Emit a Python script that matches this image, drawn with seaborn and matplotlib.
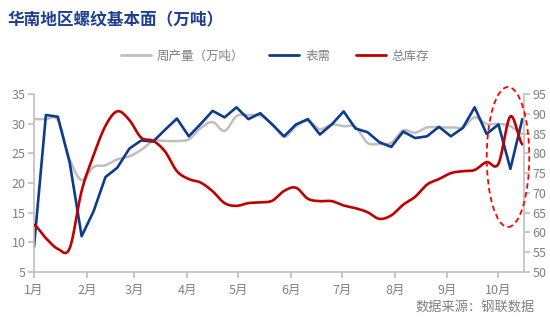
import numpy as np
import pandas as pd
import matplotlib
matplotlib.use('Agg')
import matplotlib.pyplot as plt
import matplotlib.dates as mdates
from matplotlib.patches import Ellipse
from matplotlib.lines import Line2D
import seaborn as sns

sns.set_theme(style='white')
plt.rcParams['font.family'] = ['Noto Sans CJK SC', 'DejaVu Sans']

title = '华南地区螺纹基本面（万吨）'
source = '数据来源：钢联数据'
series_names = ['周产量（万吨）', '表需', '总库存']
month_labels = ['1月', '2月', '3月', '4月', '5月', '6月', '7月', '8月', '9月', '10月']

production = [30.8, 30.8, 30.6, 24.0, 20.5, 22.7, 23.0, 24.0, 24.5, 25.6,
              27.1, 27.1, 27.1, 27.4, 29.3, 30.3, 28.8, 31.3, 31.5, 31.4,
              30.0, 27.8, 29.6, 30.5, 29.1, 29.9, 29.6, 29.5, 26.8, 26.6,
              26.8, 28.9, 28.5, 29.4, 29.4, 29.4, 29.4, 31.1, 30.0, 30.0,
              29.6, 28.3]
demand = [9.2, 31.5, 31.2, 23.4, 11.0, 15.2, 21.0, 22.6, 25.8, 27.2,
          27.0, 29.0, 30.9, 27.9, 30.0, 32.2, 31.1, 32.8, 30.8, 31.8,
          29.9, 27.9, 29.9, 30.8, 28.2, 29.9, 32.1, 29.2, 28.6, 26.9,
          26.1, 28.7, 27.6, 27.9, 29.5, 27.9, 29.3, 32.8, 28.3, 29.9,
          22.4, 30.8]
inventory = [61.9, 58.5, 55.8, 56.0, 70.5, 79.5, 87.0, 90.7, 88.5, 84.0,
             83.2, 80.5, 75.5, 73.5, 72.6, 70.4, 67.4, 66.7, 67.4, 67.6,
             68.0, 70.5, 71.3, 68.5, 67.9, 67.9, 66.8, 66.1, 65.1, 63.4,
             64.3, 67.0, 69.0, 72.1, 73.5, 75.0, 75.5, 75.8, 77.8, 77.4,
             89.4, 82.3]

dates = pd.date_range('2025-01-02', periods=len(demand), freq='7D')
month_ticks = pd.date_range('2025-01-01', periods=10, freq='MS') + pd.Timedelta(days=1)

xnum = mdates.date2num(dates)


def smooth(x, y, n=16):
    x = np.asarray(x, float)
    y = np.asarray(y, float)
    xs, ys = [], []
    m = len(y)
    for i in range(m - 1):
        p0 = y[i - 1] if i > 0 else y[i]
        p1 = y[i]
        p2 = y[i + 1]
        p3 = y[i + 2] if i + 2 < m else y[i + 1]
        t = np.linspace(0, 1, n, endpoint=False)
        yy = 0.5 * (2 * p1 + (-p0 + p2) * t + (2 * p0 - 5 * p1 + 4 * p2 - p3) * t ** 2
                    + (-p0 + 3 * p1 - 3 * p2 + p3) * t ** 3)
        xx = x[i] + (x[i + 1] - x[i]) * t
        xs.append(xx)
        ys.append(yy)
    xs.append([x[-1]])
    ys.append([y[-1]])
    return np.concatenate(xs), np.concatenate(ys)


c_gray = '#bfbfbf'
c_blue = '#0c3c8c'
c_red = '#c00000'
c_axis = '#bfbfbf'
c_text = '#808080'

fig = plt.figure(figsize=(5.5, 3.3), dpi=100)
ax = fig.add_axes([34 / 550, 1 - 271.7 / 330, (524 - 34) / 550, (271.7 - 94.3) / 330])
ax2 = ax.twinx()

px, py = smooth(xnum, production)
sns.lineplot(x=px, y=py, ax=ax, color=c_gray, lw=1.8, sort=False, estimator=None)
sns.lineplot(x=xnum, y=demand, ax=ax, color=c_blue, lw=1.9, sort=False, estimator=None)
rx, ry = smooth(xnum, inventory)
sns.lineplot(x=rx, y=ry, ax=ax2, color=c_red, lw=1.9, sort=False, estimator=None)

ax.set_xlim(xnum[0], xnum[-1] + 1)
ax.set_ylim(5, 35)
ax.set_yticks(range(5, 36, 5))
ax2.set_ylim(50, 95)
ax2.set_yticks(range(50, 96, 5))
ax.set_xticks(mdates.date2num(month_ticks))
ax.set_xticklabels(month_labels)
ax.set_xlabel('')
ax.set_ylabel('')
ax2.set_ylabel('')

for a in (ax, ax2):
    for s in a.spines.values():
        s.set_color(c_axis)
        s.set_linewidth(1.2)
    a.spines['top'].set_visible(False)
    a.grid(False)
ax.spines['right'].set_visible(False)
ax2.spines['left'].set_visible(False)
ax2.spines['bottom'].set_visible(False)

ax.tick_params(axis='both', direction='out', length=4, width=1.2, color=c_axis,
               labelcolor=c_text, labelsize=9, pad=2)
ax.tick_params(axis='x', pad=5)
ax.tick_params(left=True, bottom=True)
ax2.tick_params(axis='y', direction='out', length=4, width=1.2, color=c_axis,
                labelcolor=c_text, labelsize=9, pad=2, right=True)

# highlight ellipse (annotation around the latest weeks)
cx = mdates.date2num(dates[0]) + (509 - 34) / 1.705
ax2.add_patch(Ellipse((cx, 79.1), width=25, height=35.5, angle=0, fill=False,
                      edgecolor='#ff0000', linestyle=(0, (3, 2)), linewidth=1.3,
                      clip_on=False, zorder=10))

handles = [Line2D([], [], color=c_gray, lw=2),
           Line2D([], [], color=c_blue, lw=2),
           Line2D([], [], color=c_red, lw=2)]
leg = fig.legend(handles, series_names, loc='center', bbox_to_anchor=(0.5, 1 - 56 / 330),
                 ncol=3, frameon=False, fontsize=9, handlelength=2.4, handletextpad=0.5,
                 columnspacing=2.0)
for t in leg.get_texts():
    t.set_color(c_text)

fig.text(8 / 550, 1 - 20 / 330, title, fontsize=12, fontweight='bold', color='#1f3f8f',
         ha='left', va='center')
fig.text(535 / 550, 1 - 308 / 330, source, fontsize=9.5, color=c_text, ha='right', va='center')

fig.savefig('out.png', dpi=100)
